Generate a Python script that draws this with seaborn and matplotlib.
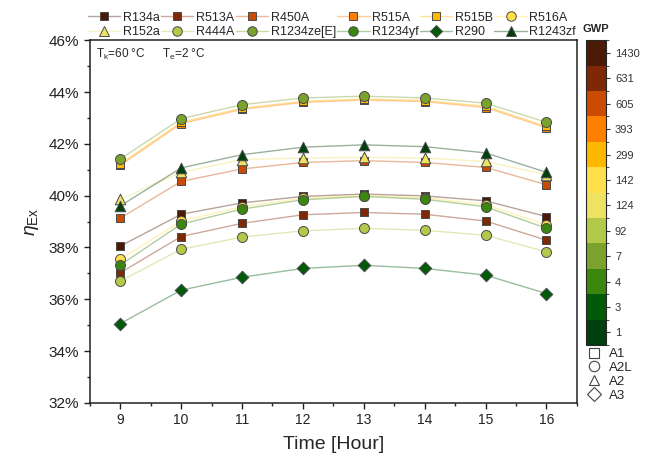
import matplotlib
matplotlib.use("Agg")
import matplotlib.pyplot as plt
from matplotlib.lines import Line2D
from matplotlib.colors import ListedColormap, BoundaryNorm, to_rgb
from matplotlib.cm import ScalarMappable
from matplotlib.ticker import MultipleLocator, PercentFormatter
import seaborn as sns
import pandas as pd
import numpy as np

hours = [9, 10, 11, 12, 13, 14, 15, 16]

refrigerants = ["R134a", "R513A", "R450A", "R515A", "R515B", "R516A",
                "R152a", "R444A", "R1234ze[E]", "R1234yf", "R290", "R1243zf"]

R134a = [38.05, 39.28, 39.72, 39.97, 40.06, 39.99, 39.80, 39.19]
R513A = [37.02, 38.42, 38.93, 39.26, 39.35, 39.28, 39.02, 38.28]
R450A = [39.13, 40.55, 41.03, 41.28, 41.35, 41.28, 41.09, 40.42]
R515A = [41.17, 42.78, 43.33, 43.60, 43.69, 43.63, 43.40, 42.62]
R515B = [41.22, 42.83, 43.37, 43.64, 43.73, 43.67, 43.45, 42.67]
R516A = [37.54, 39.02, 39.57, 39.90, 40.00, 39.92, 39.65, 38.88]
R152a = [39.86, 40.90, 41.39, 41.45, 41.48, 41.45, 41.32, 40.81]
R444A = [36.70, 37.93, 38.40, 38.64, 38.74, 38.66, 38.47, 37.83]
R1234zeE = [41.41, 42.97, 43.51, 43.77, 43.84, 43.77, 43.57, 42.83]
R1234yf = [37.32, 38.90, 39.48, 39.84, 39.97, 39.86, 39.57, 38.74]
R290 = [35.06, 36.35, 36.85, 37.19, 37.31, 37.19, 36.93, 36.22]
R1243zf = [39.60, 41.07, 41.58, 41.87, 41.96, 41.89, 41.65, 40.90]

series = [R134a, R513A, R450A, R515A, R515B, R516A,
          R152a, R444A, R1234zeE, R1234yf, R290, R1243zf]

safety = ["A1", "A1", "A1", "A1", "A1", "A2L",
          "A2", "A2L", "A2L", "A2L", "A3", "A2"]

gwp_labels = ["1430", "631", "605", "393", "299", "142",
              "124", "92", "7", "4", "3", "1"]

colors = ["#4B1A06", "#7E2805", "#CA4B02", "#FF7F00", "#FFB800", "#FFE04C",
          "#EEE262", "#B2C94A", "#7AA22D", "#3A860E", "#005A0A", "#003F0E"]

class_names = ["A1", "A2L", "A2", "A3"]
class_markers = {"A1": "s", "A2L": "o", "A2": "^", "A3": "D"}
marker_sizes = {"A1": 6.4, "A2L": 7.2, "A2": 7.6, "A3": 6.4}

rows = []
for name, vals, cls in zip(refrigerants, series, safety):
    for h, v in zip(hours, vals):
        rows.append({"Hour": h, "eta": v, "Refrigerant": name, "Class": cls})
df = pd.DataFrame(rows)

sns.set_style("ticks")
plt.rcParams["font.family"] = ["Liberation Sans", "DejaVu Sans"]
plt.rcParams["mathtext.fontset"] = "custom"
plt.rcParams["mathtext.rm"] = "Liberation Sans"
plt.rcParams["mathtext.it"] = "Liberation Sans:italic"

fig = plt.figure(figsize=(6.46, 4.62), dpi=100)
ax = fig.add_axes([0.139, 0.128, 0.754, 0.785])

palette = dict(zip(refrigerants, colors))

# lines
for name in refrigerants:
    sub = df[df["Refrigerant"] == name]
    sns.lineplot(data=sub, x="Hour", y="eta", color=palette[name], alpha=0.4,
                 linewidth=1.0, ax=ax, legend=False, zorder=2)
# markers
for name, cls in zip(refrigerants, safety):
    sub = df[df["Refrigerant"] == name]
    ms = marker_sizes[cls]
    sns.scatterplot(data=sub, x="Hour", y="eta", color=palette[name],
                    marker=class_markers[cls], s=ms ** 2, edgecolor="#4a4a4a",
                    linewidth=0.7, ax=ax, legend=False, zorder=3)

ax.set_xlim(8.5, 16.5)
ax.set_ylim(32, 46)
ax.set_xticks(hours)
ax.xaxis.set_minor_locator(MultipleLocator(0.5))
ax.yaxis.set_major_locator(MultipleLocator(2))
ax.yaxis.set_minor_locator(MultipleLocator(1))
ax.yaxis.set_major_formatter(PercentFormatter(decimals=0))
ax.tick_params(axis="both", which="major", direction="out", length=4, width=1,
               colors="#222222")
ax.tick_params(axis="x", which="major", labelsize=10)
ax.tick_params(axis="y", which="major", labelsize=11)
ax.tick_params(axis="both", which="minor", direction="out", length=2.5, width=1)
for sp in ax.spines.values():
    sp.set_linewidth(1.1)
    sp.set_color("#222222")
ax.set_xlabel("Time [Hour]", fontsize=14, labelpad=6)
ax.set_ylabel(r"$\eta_{\mathrm{Ex}}$", fontsize=14, labelpad=6)

ax.text(0.012, 0.982, r"T$_\mathrm{k}$=60 °C", transform=ax.transAxes,
        fontsize=8.5, va="top", ha="left")
ax.text(0.148, 0.982, r"T$_\mathrm{e}$=2 °C", transform=ax.transAxes,
        fontsize=8.5, va="top", ha="left")

# top legend (row-wise order)
handles = []
for name, cls in zip(refrigerants, safety):
    c = np.array(to_rgb(palette[name]))
    handles.append(Line2D([0], [0], color=tuple(c * 0.4 + 0.6), lw=1.0,
                          marker=class_markers[cls], markersize=marker_sizes[cls] * 0.95,
                          markerfacecolor=palette[name], markeredgecolor="#4a4a4a",
                          markeredgewidth=0.7))
ncol = 6
order = [r * ncol + c for c in range(ncol) for r in range(2)]
leg = fig.legend([handles[i] for i in order], [refrigerants[i] for i in order],
                 ncol=ncol, loc="upper left",
                 bbox_to_anchor=(0.136, 0.975), frameon=False, fontsize=9,
                 handlelength=2.6, handletextpad=0.2, columnspacing=0.1,
                 labelspacing=0.2, borderaxespad=0, borderpad=0)

# colorbar
cax = fig.add_axes([0.907, 0.253, 0.031, 0.66])
cmap = ListedColormap(colors[::-1])
norm = BoundaryNorm(np.arange(len(colors) + 1), cmap.N)
cb = fig.colorbar(ScalarMappable(norm=norm, cmap=cmap), cax=cax)
cb.set_ticks(np.arange(len(colors)) + 0.5)
cb.set_ticklabels(gwp_labels[::-1])
cb.ax.tick_params(labelsize=8, length=3, width=0.8, colors="#333333")
cb.outline.set_linewidth(0.8)
cax.text(0.5, 1.02, "GWP", transform=cax.transAxes, ha="center", va="bottom",
         fontsize=8, fontweight="bold")

# class legend
chandles = [Line2D([0], [0], ls="none", marker=class_markers[c], markersize=7.5,
                   markerfacecolor="white", markeredgecolor="#444444",
                   markeredgewidth=0.8) for c in class_names]
fig.legend(chandles, class_names, loc="upper left", bbox_to_anchor=(0.91, 0.247),
           frameon=False, fontsize=9.5, handlelength=1.0, handletextpad=0.6,
           labelspacing=0.12, borderaxespad=0, borderpad=0)

fig.savefig("out.png", dpi=100)
